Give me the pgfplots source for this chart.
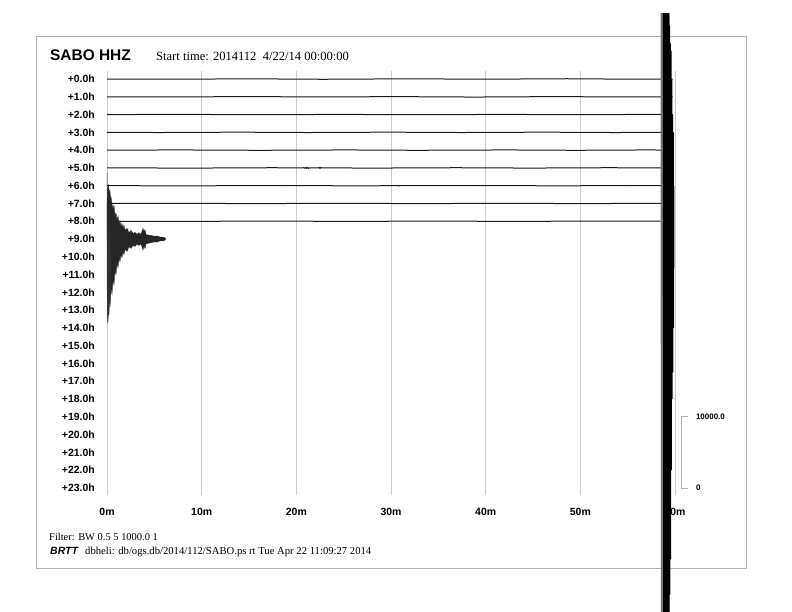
\documentclass[border=0pt]{standalone}
\usepackage{fontspec}
\setmainfont{Liberation Serif}
\setsansfont{Liberation Sans}
\usepackage{pgfplots}
\pgfplotsset{compat=1.18}
\definecolor{gridgray}{HTML}{CCCCCC}
\definecolor{framegray}{HTML}{B4B4B4}
\begin{document}
\begin{tikzpicture}
\useasboundingbox (0,0) rectangle (792bp,-612bp);
\fill[white] (0,0) rectangle (792bp,-612bp);
\draw[framegray, line width=0.9bp] (36bp,-36bp) rectangle (746bp,-568bp);
\begin{axis}[
  at={(391bp,-283bp)}, anchor=center,
  scale only axis, width=568bp, height=424bp,
  xmin=0, xmax=60, ymin=-0.45, ymax=23.4,
  y dir=reverse, clip=false,
  axis line style={draw=none},
  major tick length=0pt,
  xmajorgrids, major grid style={gridgray, line width=0.7bp},
  xtick={0,10,20,30,40,50,60},
  xticklabels={0m,10m,20m,30m,40m,50m,60m},
  ytick={0,1,...,23},
  yticklabels={+0.0h,+1.0h,+2.0h,+3.0h,+4.0h,+5.0h,+6.0h,+7.0h,+8.0h,+9.0h,+10.0h,+11.0h,+12.0h,+13.0h,+14.0h,+15.0h,+16.0h,+17.0h,+18.0h,+19.0h,+20.0h,+21.0h,+22.0h,+23.0h},
  xticklabel style={font=\sffamily\bfseries\fontsize{10.5}{12}\selectfont, anchor=base, inner sep=0pt, yshift=-20bp},
  yticklabel style={font=\sffamily\bfseries\fontsize{10.5}{12}\selectfont, anchor=base east, inner sep=0pt, xshift=-12bp, yshift=-3.7bp},
]
% background noise rows
\addplot[black!90, line width=1bp] coordinates {(0,0) (7.3,0.01) (15.2,-0.01) (22.8,0.015) (31.5,-0.01) (40.1,0.01) (48.6,-0.015) (55.4,0.01) (59.75,0)};
\addplot[black!90, line width=1bp] coordinates {(0,1) (6.1,1.01) (14.7,0.99) (23.9,1.01) (30.2,0.99) (38.8,1.015) (47.3,0.99) (54.9,1.01) (59.75,1)};
\addplot[black!90, line width=1bp] coordinates {(0,2) (8.2,1.99) (16.6,2.01) (24.4,1.99) (33.1,2.01) (41.7,1.99) (50.2,2.01) (56.8,1.99) (59.75,2)};
\addplot[black!90, line width=1bp] coordinates {(0,3) (5.5,3.01) (13.9,2.99) (21.2,3.01) (29.8,2.99) (37.4,3.01) (46.1,2.99) (53.6,3.01) (59.75,3)};
\addplot[black!90, line width=1bp] coordinates {(0,4) (7.8,3.99) (16.1,4.01) (25.3,3.99) (32.7,4.01) (42.2,3.99) (49.5,4.01) (57.1,3.99) (59.75,4)};
\addplot[black!90, line width=1bp] coordinates {(0,5) (9.4,5.01) (17.5,4.99) (20.7,5) (20.8,4.975) (20.9,5.025) (21.0,4.975) (21.1,5.025) (21.2,4.97) (21.3,5.03) (21.4,5) (22.3,5) (22.4,4.975) (22.5,5.03) (22.6,4.975) (22.7,5) (28.3,5.01) (36.9,4.99) (44.6,5.01) (52.8,4.99) (59.75,5)};
\addplot[black!90, line width=1bp] coordinates {(0,6) (8.6,6.01) (18.4,5.99) (26.2,6.01) (30.6,6) (30.7,5.98) (30.8,6.02) (30.9,6) (39.3,5.99) (47.9,6.01) (55.2,5.99) (59.75,6)};
\addplot[black!90, line width=1bp] coordinates {(0,7) (6.9,6.99) (15.8,7.01) (24.1,6.99) (33.6,7.01) (41.4,6.99) (50.7,7.01) (57.6,6.99) (59.75,7)};
\addplot[black!90, line width=1bp] coordinates {(0,8) (7.7,8.01) (16.9,7.99) (25.8,8.01) (34.4,7.99) (43.0,8.01) (51.6,7.99) (58.55,8)};
% large event on row 8 (clipped band)
\addplot[black!55, line width=0.8bp] coordinates {(58.52,-3.7) (58.55,30.5) (58.58,-3.7) (58.61,30.5) (58.64,-3.7) (58.67,30.5) (58.70,-3.7) (58.73,30.5) (58.76,-3.7)};
\addplot[black, line width=0.8bp] coordinates {(58.76,-3.7) (58.79,30.5) (58.82,-3.7) (58.85,30.5) (58.88,-3.7) (58.91,30.5) (58.94,-3.7) (58.97,30.5) (59.00,-3.7) (59.03,30.5) (59.06,-3.7) (59.09,30.5) (59.12,-3.7) (59.15,30.5) (59.18,-3.7) (59.21,30.5) (59.24,-3.7) (59.27,30.5) (59.30,-3.7) (59.33,30.5) (59.36,-3.7)};
\addplot[black, line width=0.6bp] coordinates {(59.36,-3.7) (59.40,30.5) (59.44,-3.0) (59.48,29) (59.52,-2.0) (59.56,27) (59.60,-1.6) (59.64,22) (59.68,0) (59.72,18) (59.76,2) (59.80,16.5) (59.84,3) (59.88,14) (59.90,6)};
% coda on row 9 (envelope)
\addplot[fill=black!85, draw=black!85, line width=0.3bp] coordinates {
(0,7.31) (0.053,6.08) (0.106,6.30) (0.158,5.91) (0.211,6.19) (0.264,6.47) (0.317,6.30) (0.370,6.75) (0.423,6.64) (0.528,7.03) (0.634,7.31) (0.739,7.10) (0.845,7.65) (0.951,7.55) (1.056,7.95) (1.162,7.70) (1.268,8.15) (1.373,7.95) (1.479,8.32) (1.584,8.12) (1.690,8.42) (1.796,8.22) (1.901,8.52) (2.113,8.40) (2.324,8.64) (2.535,8.52) (2.746,8.68) (2.958,8.62) (3.169,8.74) (3.380,8.64) (3.591,8.74) (3.697,8.55) (3.803,8.40) (3.908,8.61) (4.014,8.47) (4.120,8.74) (4.331,8.78) (4.648,8.80) (4.965,8.84) (5.282,8.83) (5.598,8.89) (5.915,8.89) (6.127,8.94)
(6.2,9.0)
(6.127,9.06) (5.915,9.11) (5.598,9.11) (5.282,9.17) (4.965,9.17) (4.648,9.21) (4.331,9.24) (4.120,9.28) (4.014,9.53) (3.908,9.39) (3.803,9.62) (3.697,9.45) (3.591,9.27) (3.380,9.36) (3.169,9.30) (2.958,9.42) (2.746,9.36) (2.535,9.53) (2.324,9.43) (2.113,9.70) (1.901,9.58) (1.796,9.88) (1.690,9.70) (1.584,10.05) (1.479,9.86) (1.373,10.28) (1.268,10.08) (1.162,10.62) (1.056,10.36) (0.951,11.02) (0.845,10.75) (0.739,11.58) (0.634,11.30) (0.528,12.12) (0.423,11.78) (0.317,12.66) (0.264,12.38) (0.211,13.22) (0.158,12.94) (0.106,13.61) (0.053,13.39) (0,11.25)} -- cycle;
% coda thin spikes
\addplot[black!80, line width=0.5bp] coordinates {(0,9) (0.02,5.3) (0.04,11) (0.08,13.75) (0.12,8) (0.18,13.3) (0.25,7.5) (0.33,12.8) (0.42,8.2)};
% amplitude scale bar
\addplot[framegray, line width=0.7bp] coordinates {(61.37,19) (60.63,19) (60.63,23) (61.37,23)};
\node[anchor=west, inner sep=0pt, font=\sffamily\bfseries\fontsize{8}{9}\selectfont] at (axis cs:62.2,19) {10000.0};
\node[anchor=west, inner sep=0pt, font=\sffamily\bfseries\fontsize{8}{9}\selectfont] at (axis cs:62.2,23) {0};
\end{axis}
\node[anchor=base west, inner sep=0pt, font=\sffamily\bfseries\fontsize{15.5}{17}\selectfont] at (50bp,-60bp) {SABO HHZ};
\node[anchor=base west, inner sep=0pt, font=\fontsize{12.6}{14}\selectfont] at (156bp,-60bp) {Start time: 2014112\ \ 4/22/14 00:00:00};
\node[anchor=base west, inner sep=0pt, font=\fontsize{10.5}{12}\selectfont] at (49bp,-540bp) {Filter: BW 0.5 5 1000.0 1};
\node[anchor=base west, inner sep=0pt, font=\sffamily\bfseries\itshape\fontsize{10.5}{12}\selectfont] at (50bp,-554bp) {BRTT};
\node[anchor=base west, inner sep=0pt, font=\fontsize{10.7}{12}\selectfont] at (85bp,-554bp) {dbheli: db/ogs.db/2014/112/SABO.ps rt Tue Apr 22 11:09:27 2014};
\end{tikzpicture}
\end{document}
